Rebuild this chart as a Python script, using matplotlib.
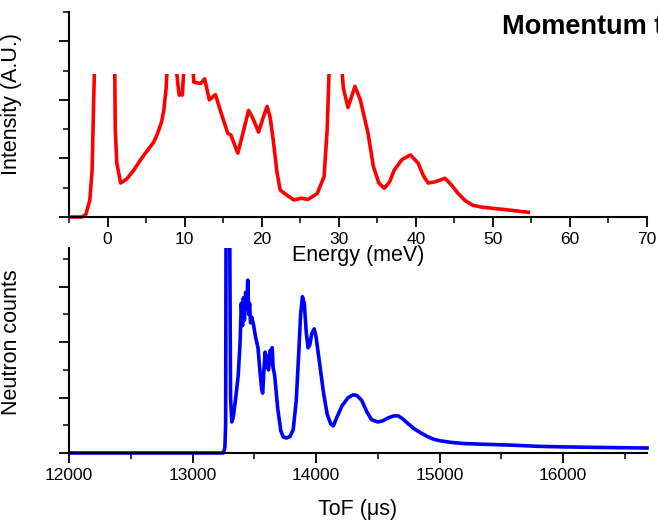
import matplotlib
matplotlib.use("Agg")
import matplotlib.pyplot as plt
from matplotlib.patches import Rectangle
from matplotlib.ticker import MultipleLocator

plt.rcParams["font.family"] = ["Liberation Sans", "DejaVu Sans"]

# energy spectrum (top panel)
energy = [-5, -3.3, -2.8, -2.3, -2.0, -1.8, -1.6, 0.0, 0.9, 1.0, 1.2, 1.7, 2.5, 3.4,
          4.3, 5.2, 6.0, 6.5, 7.0, 7.3, 7.6, 7.8, 8.2, 8.8, 9.1, 9.3, 9.5, 9.7, 9.8,
          10.0, 10.5, 11.0, 11.2, 12.1, 12.6, 13.2, 14.0, 14.8, 15.6, 16.0, 16.9,
          17.6, 18.3, 18.8, 19.6, 20.2, 20.7, 21.1, 21.5, 22.0, 22.4, 23.3, 24.2,
          25.1, 26.0, 27.2, 28.1, 28.5, 28.8, 29.5, 30.3, 30.6, 31.2, 32.1, 32.8,
          33.8, 34.5, 35.2, 35.9, 36.6, 37.2, 38.2, 39.3, 40.3, 41.0, 41.6, 42.5,
          43.8, 44.6, 45.5, 46.4, 47.4, 48.5, 49.8, 52.0, 54.6]
intensity = [0, 0, 0.05, 0.29, 0.8, 2.0, 3.0, 3.0, 3.0, 1.5, 0.92, 0.58, 0.65, 0.8,
             0.98, 1.14, 1.28, 1.43, 1.62, 1.82, 2.2, 2.7, 3.0, 2.7, 2.3, 2.08, 2.1,
             2.08, 2.3, 2.7, 3.0, 2.7, 2.3, 2.28, 2.36, 2.0, 2.09, 1.75, 1.43, 1.4,
             1.09, 1.45, 1.82, 1.7, 1.45, 1.7, 1.89, 1.7, 1.31, 0.75, 0.46, 0.37,
             0.29, 0.32, 0.3, 0.4, 0.69, 1.5, 2.7, 3.0, 2.7, 2.2, 1.87, 2.23, 2.0,
             1.43, 0.86, 0.58, 0.49, 0.6, 0.8, 0.98, 1.06, 0.92, 0.7, 0.58, 0.6,
             0.66, 0.55, 0.4, 0.28, 0.2, 0.17, 0.15, 0.12, 0.08]

# time-of-flight spectrum (bottom panel)
tof = [12000, 13250, 13262, 13268, 13272, 13300, 13308, 13318, 13330, 13350, 13370,
       13385, 13395, 13405, 13412, 13420, 13430, 13440, 13447, 13455, 13462, 13470,
       13480, 13495, 13510, 13530, 13545, 13560, 13568, 13578, 13588, 13598, 13605,
       13615, 13628, 13638, 13645, 13652, 13665, 13690, 13715, 13735, 13760, 13790,
       13815, 13840, 13860, 13875, 13890, 13905, 13920, 13935, 13950, 13965, 13985,
       14000, 14030, 14060, 14090, 14120, 14140, 14170, 14210, 14260, 14300, 14330,
       14370, 14410, 14450, 14500, 14540, 14580, 14630, 14665, 14700, 14750, 14800,
       14850, 14900, 14950, 15005, 15100, 15200, 15330, 15600, 15800, 16000, 16300,
       16680]
counts = [0, 0, 0.1, 0.5, 4.5, 4.5, 1.0, 0.56, 0.65, 1.0, 1.4, 2.0, 2.7, 2.3, 2.8,
          2.4, 2.9, 2.6, 3.12, 2.5, 2.7, 2.35, 2.45, 2.3, 2.1, 1.9, 1.5, 1.15, 1.08,
          1.5, 1.82, 1.55, 1.75, 1.5, 1.85, 1.6, 1.9, 1.55, 1.4, 0.8, 0.4, 0.29,
          0.27, 0.3, 0.42, 0.95, 1.8, 2.5, 2.82, 2.7, 2.2, 1.9, 1.95, 2.15, 2.24,
          2.1, 1.6, 1.1, 0.7, 0.52, 0.49, 0.65, 0.85, 1.0, 1.05, 1.04, 0.95, 0.75,
          0.6, 0.56, 0.58, 0.63, 0.67, 0.67, 0.62, 0.52, 0.43, 0.36, 0.3, 0.25,
          0.22, 0.19, 0.17, 0.16, 0.14, 0.12, 0.11, 0.10, 0.09]

fig = plt.figure(figsize=(6.58, 5.22), dpi=100)
ax2 = fig.add_axes([0.1049, 0.1322, 0.8784, 0.3927])
ax1 = fig.add_axes([0.1049, 0.5843, 0.8784, 0.3927])


def style(ax):
    ax.patch.set_visible(False)
    for side in ("top", "right"):
        ax.spines[side].set_visible(False)
    for side in ("left", "bottom"):
        ax.spines[side].set_linewidth(1.5)
    ax.tick_params(which="major", direction="out", length=7, width=1.3, labelsize=12.5)
    ax.tick_params(which="minor", direction="out", length=4, width=1.1)
    ax.tick_params(axis="y", labelleft=False)
    ax.yaxis.set_major_locator(MultipleLocator(1))
    ax.yaxis.set_minor_locator(MultipleLocator(0.5))


style(ax1)
line1, = ax1.plot(energy, intensity, color="red", lw=2.6)
line1.set_clip_path(Rectangle((-5, -0.1), 75, 2.55, transform=ax1.transData))
ax1.set_xlim(-5, 70)
ax1.set_ylim(0, 3.5)
ax1.xaxis.set_major_locator(MultipleLocator(10))
ax1.xaxis.set_minor_locator(MultipleLocator(5))
ax1.set_xlabel("Energy (meV)", fontsize=15.5, labelpad=-1)
ax1.set_ylabel("Intensity (A.U.)", fontsize=15.5)
ax1.yaxis.set_label_coords(-0.081, 0.55)

style(ax2)
line2, = ax2.plot(tof, counts, color="blue", lw=2.6)
line2.set_clip_path(Rectangle((12000, -0.1), 4700, 3.8, transform=ax2.transData))
ax2.set_xlim(12000, 16680)
ax2.set_ylim(0, 3.7)
ax2.xaxis.set_major_locator(MultipleLocator(1000))
ax2.xaxis.set_minor_locator(MultipleLocator(500))
ax2.set_xlabel("ToF (\u03bcs)", fontsize=15.5, labelpad=12)
ax2.set_ylabel("Neutron counts", fontsize=15.5)
ax2.yaxis.set_label_coords(-0.081, 0.54)

fig.text(0.763, 0.935, "Momentum transfer", fontsize=19.5, fontweight="bold",
         ha="left", va="baseline")

fig.savefig("out.png", dpi=100)
